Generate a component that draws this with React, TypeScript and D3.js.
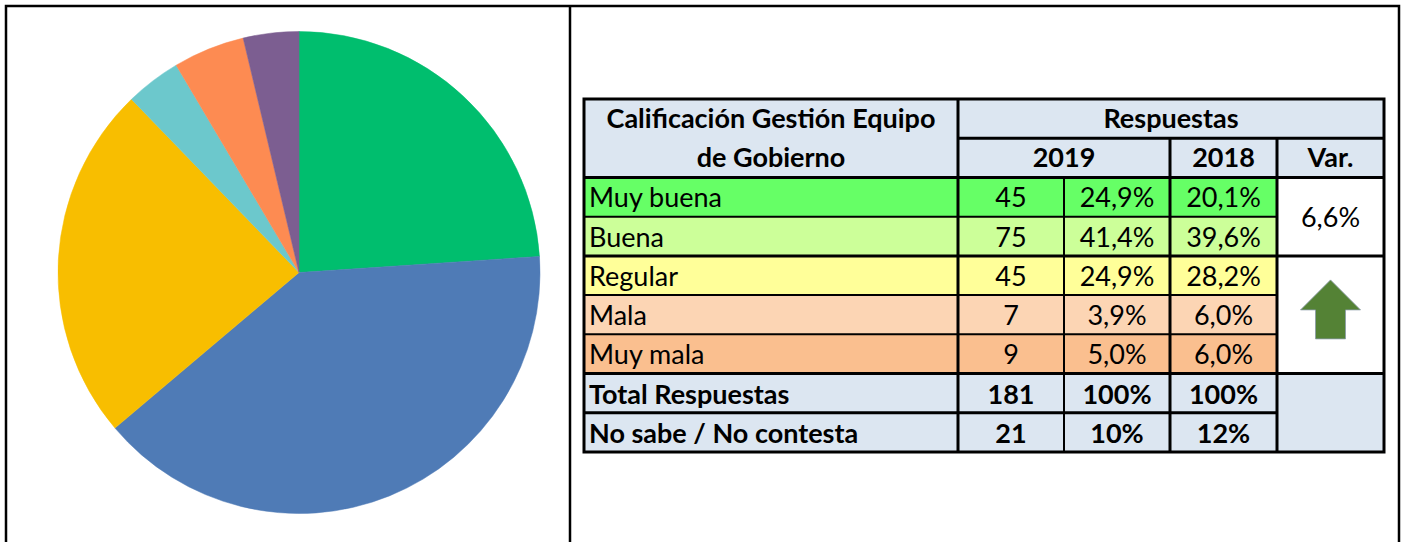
import * as d3 from 'd3'

// pie slices, clockwise from 12 o'clock
const pieValues = [45, 75, 45, 7, 9, 7]
const pieColors = ['#00be6e', '#4f7bb6', '#f8be00', '#6cc8cc', '#fd8b52', '#7c5e91']

// table body
const categories = ['Muy buena', 'Buena', 'Regular', 'Mala', 'Muy mala']
const counts2019 = ['45', '75', '45', '7', '9']
const pct2019 = ['24,9%', '41,4%', '24,9%', '3,9%', '5,0%']
const pct2018 = ['20,1%', '39,6%', '28,2%', '6,0%', '6,0%']
const rowFills = ['#66ff66', '#ccff99', '#ffff99', '#fcd5b4', '#fabf8f']

const totalLabels = ['Total Respuestas', 'No sabe / No contesta']
const totalCounts = ['181', '21']
const totalPct2019 = ['100%', '10%']
const totalPct2018 = ['100%', '12%']

const headerTitle = ['Calificación Gestión Equipo', 'de Gobierno']
const yearLabels = ['2019', '2018', 'Var.']
const variation = '6,6%'

const W = 1405
const H = 542
const FONT = 'Lato, "Open Sans", sans-serif'
const headBg = '#dce6f1'
const fsNormal = 27
const fsBold = 27

// column edges of the table
const colEdges = [584, 958, 1064, 1170, 1277, 1384]

export default function App() {
  const cx = 299
  const cy = 272.5
  const r = 241

  const pie = d3.pie<number>().sort(null).value((d) => d)
  const arcs = pie(pieValues)
  const arc = d3.arc<d3.PieArcDatum<number>>().innerRadius(0).outerRadius(r)

  const rows = d3.range(9)
  const y = d3.scaleBand<number>().domain(rows).range([99, 452])
  const rh = y.bandwidth()
  const top = (i: number) => y(i) as number
  const colC = (i: number) => (colEdges[i] + colEdges[i + 1]) / 2

  const dataRows = categories.map((c, i) => ({
    label: c, n: counts2019[i], p19: pct2019[i], p18: pct2018[i], fill: rowFills[i], bold: false,
  }))
  const totRows = totalLabels.map((c, i) => ({
    label: c, n: totalCounts[i], p19: totalPct2019[i], p18: totalPct2018[i], fill: headBg, bold: true,
  }))
  const body = [...dataRows, ...totRows]

  // arrow in the merged var cell
  const ax = colC(4)
  const ay = top(4) + 24
  const arrow = [
    [ax, ay], [ax + 30, ay + 30], [ax + 15, ay + 30], [ax + 15, ay + 59],
    [ax - 15, ay + 59], [ax - 15, ay + 30], [ax - 30, ay + 30],
  ]

  const thin = 2
  const thick = 3

  return (
    <div style={{ position: 'absolute', left: 0, top: 0 }}>
      <svg width={W} height={H} style={{ display: 'block', fontFamily: FONT }}>
        <rect width={W} height={H} fill="#fff" />
        {/* outer frame */}
        <path d={`M6,${H + 5}V6H1399V${H + 5}`} fill="none" stroke="#000" strokeWidth={2.5} />
        <line x1={570} x2={570} y1={6} y2={H} stroke="#000" strokeWidth={2.5} />

        {/* pie */}
        <g transform={`translate(${cx},${cy})`}>
          {arcs.map((a, i) => (
            <path key={i} d={arc(a) as string} fill={pieColors[i]} stroke={pieColors[i]} strokeWidth={0.5} />
          ))}
        </g>

        {/* table header */}
        <rect x={colEdges[0]} y={top(0)} width={colEdges[5] - colEdges[0]} height={rh * 2} fill={headBg} />
        <g fontWeight="bold" fontSize={fsBold} textAnchor="middle">
          {headerTitle.map((t, i) => (
            <text key={t} x={colC(0)} y={top(i) + 29}>{t}</text>
          ))}
          <text x={(colEdges[1] + colEdges[5]) / 2} y={top(0) + 29}>Respuestas</text>
          <text x={(colEdges[1] + colEdges[3]) / 2} y={top(1) + 29}>{yearLabels[0]}</text>
          <text x={colC(3)} y={top(1) + 29}>{yearLabels[1]}</text>
          <text x={colC(4)} y={top(1) + 29}>{yearLabels[2]}</text>
        </g>

        {/* body rows */}
        {body.map((row, i) => {
          const ry = top(i + 2)
          return (
            <g key={row.label} fontWeight={row.bold ? 'bold' : 'normal'} fontSize={row.bold ? fsBold : fsNormal}>
              <rect x={colEdges[0]} y={ry} width={colEdges[4] - colEdges[0]} height={rh} fill={row.fill} />
              <text x={colEdges[0] + 5} y={ry + 30}>{row.label}</text>
              <text x={colC(1)} y={ry + 30} textAnchor="middle">{row.n}</text>
              <text x={colC(2)} y={ry + 30} textAnchor="middle">{row.p19}</text>
              <text x={colC(3)} y={ry + 30} textAnchor="middle">{row.p18}</text>
            </g>
          )
        })}

        {/* var column merged cells */}
        <rect x={colEdges[4]} y={top(2)} width={colEdges[5] - colEdges[4]} height={rh * 5} fill="#fff" />
        <rect x={colEdges[4]} y={top(7)} width={colEdges[5] - colEdges[4]} height={rh * 2} fill={headBg} />
        <text x={colC(4)} y={top(3) + 10} textAnchor="middle" fontSize={fsNormal}>{variation}</text>
        <polygon points={arrow.map((p) => p.join(',')).join(' ')} fill="#548235" stroke="#8a9aa8" strokeWidth={0.8} />

        {/* grid lines */}
        <g stroke="#000">
          {/* horizontal */}
          <line x1={colEdges[1]} x2={colEdges[5]} y1={top(1)} y2={top(1)} strokeWidth={thick} />
          <line x1={colEdges[0]} x2={colEdges[5]} y1={top(2)} y2={top(2)} strokeWidth={thick} />
          <line x1={colEdges[0]} x2={colEdges[4]} y1={top(3)} y2={top(3)} strokeWidth={thin} />
          <line x1={colEdges[0]} x2={colEdges[5]} y1={top(4)} y2={top(4)} strokeWidth={thick} />
          <line x1={colEdges[0]} x2={colEdges[4]} y1={top(5)} y2={top(5)} strokeWidth={thin} />
          <line x1={colEdges[0]} x2={colEdges[4]} y1={top(6)} y2={top(6)} strokeWidth={thin} />
          <line x1={colEdges[0]} x2={colEdges[5]} y1={top(7)} y2={top(7)} strokeWidth={thick} />
          <line x1={colEdges[0]} x2={colEdges[4]} y1={top(8)} y2={top(8)} strokeWidth={thick} />
          {/* vertical */}
          <line x1={colEdges[1]} x2={colEdges[1]} y1={top(0)} y2={452} strokeWidth={thick} />
          <line x1={colEdges[2]} x2={colEdges[2]} y1={top(2)} y2={452} strokeWidth={thin} />
          <line x1={colEdges[3]} x2={colEdges[3]} y1={top(1)} y2={452} strokeWidth={thick} />
          <line x1={colEdges[4]} x2={colEdges[4]} y1={top(1)} y2={452} strokeWidth={thick} />
          <rect x={colEdges[0]} y={top(0)} width={colEdges[5] - colEdges[0]} height={452 - top(0)} fill="none" strokeWidth={thick} />
        </g>
      </svg>
    </div>
  )
}
